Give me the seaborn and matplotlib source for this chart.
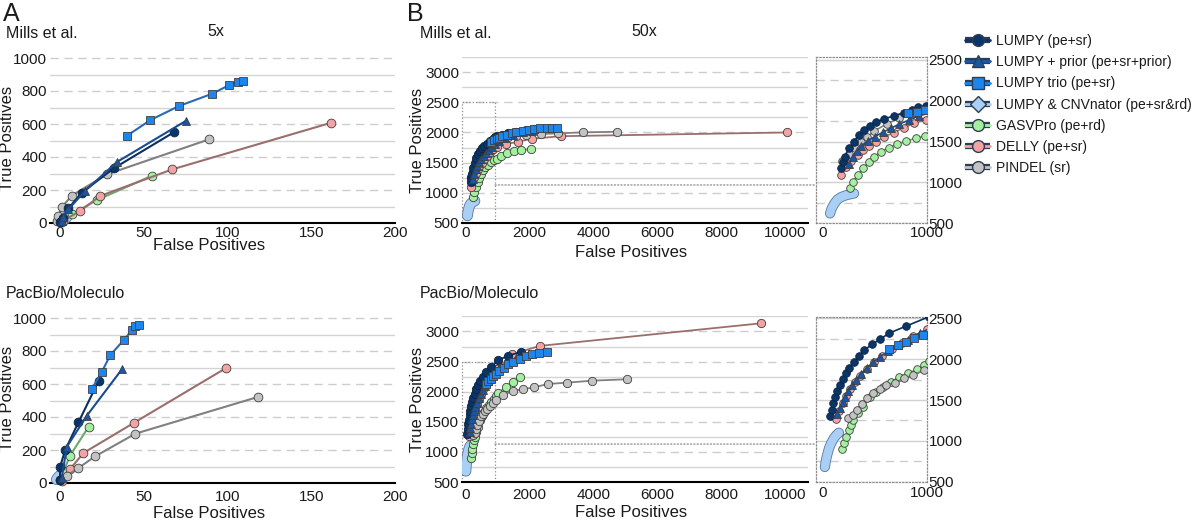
import matplotlib
matplotlib.use("Agg")
import numpy as np
import pandas as pd
import matplotlib.pyplot as plt
import matplotlib.patheffects as pe
from matplotlib.lines import Line2D
from matplotlib.patches import Rectangle, ConnectionPatch
from matplotlib.ticker import MultipleLocator, FixedLocator
import seaborn as sns

sns.set_style("white")
plt.rcParams["font.family"] = ["Liberation Sans", "DejaVu Sans"]

tools = [
    "LUMPY (pe+sr)",
    "LUMPY + prior (pe+sr+prior)",
    "LUMPY trio (pe+sr)",
    "LUMPY & CNVnator (pe+sr&rd)",
    "GASVPro (pe+rd)",
    "DELLY (pe+sr)",
    "PINDEL (sr)",
]

# (false positives, true positives)
# A, Mills et al., 5x
mills5_lumpy = [(0, 5), (2, 30), (5, 89), (13, 184), (32, 331), (68, 550)]
mills5_prior = [(1, 10), (2, 35), (5, 83), (15, 195), (34, 370), (75, 618)]
mills5_trio = [(40, 529), (54, 624), (71, 709), (91, 784), (101, 836), (106, 855), (109, 861)]
mills5_cnv = [(1, 6), (2, 16), (3, 26), (4, 36)]
mills5_gasv = [(1, 15), (7, 53), (22, 139), (55, 287)]
mills5_delly = [(2, 15), (12, 73), (24, 164), (67, 325), (162, 608)]
mills5_pindel = [(-2, 10), (-1, 42), (1, 95), (7, 166), (28, 295), (89, 507)]

# A, PacBio/Moleculo, 5x
pacbio5_lumpy = [(0, 20), (0, 97), (3, 198), (11, 368), (23, 618)]
pacbio5_prior = [(1, 30), (4, 219), (16, 408), (37, 690)]
pacbio5_trio = [(19, 570), (25, 675), (30, 775), (38, 866), (43, 927), (45, 954), (47, 959)]
pacbio5_cnv = [(-2, 22), (-1, 35), (0, 45), (1, 30)]
pacbio5_gasv = [(2, 70), (6, 166), (17, 340)]
pacbio5_delly = [(1, 15), (6, 85), (14, 182), (44, 364), (99, 696)]
pacbio5_pindel = [(0, 16), (4, 44), (11, 91), (21, 162), (45, 299), (118, 521)]

# B, Mills et al., 50x
mills50_lumpy = [(178, 1180), (190, 1250), (210, 1315), (251, 1418), (299, 1499), (346, 1581),
                 (400, 1642), (457, 1691), (511, 1736), (590, 1777), (686, 1817), (781, 1854),
                 (860, 1887), (917, 1920), (987, 1936), (1150, 1960), (1350, 1990), (1600, 2015),
                 (1900, 2040), (2150, 2055)]
mills50_prior = [(251, 1222), (289, 1315), (330, 1390), (371, 1450), (435, 1510), (498, 1560),
                 (578, 1615), (657, 1665), (736, 1715), (831, 1765), (926, 1815), (1050, 1860),
                 (1250, 1910), (1500, 1960), (1800, 2000), (2100, 2030)]
mills50_trio = [(820, 1845), (900, 1868), (980, 1890), (1060, 1910), (1160, 1935), (1300, 1960),
                (1450, 1985), (1600, 2005), (1800, 2025), (2000, 2045), (2150, 2060), (2350, 2070),
                (2550, 2075), (2700, 2078), (2850, 2080)]
mills50_cnv = [(70, 620), (85, 680), (110, 740), (140, 790), (175, 820), (215, 840), (260, 855),
               (300, 865)]
mills50_gasv = [(257, 928), (289, 1009), (337, 1091), (385, 1173), (439, 1247), (496, 1315),
                (559, 1376), (632, 1425), (708, 1465), (797, 1505), (892, 1540), (981, 1568),
                (1130, 1610), (1320, 1655), (1520, 1685), (1750, 1705), (2040, 1725)]
mills50_delly = [(178, 1091), (226, 1193), (273, 1262), (337, 1336), (385, 1397), (442, 1450),
                 (511, 1499), (590, 1560), (679, 1609), (781, 1670), (876, 1724), (987, 1764),
                 (1285, 1808), (1650, 1846), (2080, 1895), (2980, 1938), (10050, 2000)]
mills50_pindel = [(187, 1262), (251, 1348), (305, 1425), (362, 1499), (426, 1560), (496, 1630),
                  (612, 1715), (733, 1785), (860, 1838), (1022, 1874), (1335, 1919), (1598, 1940),
                  (1912, 1957), (2360, 1973), (2903, 1985), (3687, 2002), (4752, 2012)]

# B, PacBio/Moleculo, 50x
pacbio50_lumpy = [(70, 1304), (86, 1378), (102, 1460), (117, 1533), (140, 1610), (165, 1684),
                  (190, 1757), (220, 1830), (255, 1895), (295, 1960), (345, 2040), (400, 2110),
                  (470, 2180), (550, 2245), (640, 2320), (800, 2405), (1020, 2520), (1350, 2600),
                  (1750, 2660)]
pacbio50_prior = [(140, 1330), (165, 1400), (190, 1470), (215, 1540), (245, 1610), (280, 1680),
                  (320, 1750), (365, 1820), (420, 1890), (480, 1960), (550, 2030), (630, 2100),
                  (720, 2170), (820, 2240), (930, 2320), (1050, 2390), (1300, 2480), (1600, 2560),
                  (2000, 2620)]
pacbio50_trio = [(640, 2130), (720, 2175), (800, 2215), (880, 2255), (960, 2295), (1050, 2335),
                 (1200, 2400), (1350, 2455), (1500, 2500), (1700, 2550), (1900, 2595), (2100, 2625),
                 (2300, 2645), (2550, 2660)]
pacbio50_cnv = [(20, 680), (30, 760), (45, 840), (60, 910), (80, 970), (105, 1030), (130, 1070),
                (155, 1100)]
pacbio50_gasv = [(181, 897), (206, 977), (227, 1052), (250, 1130), (270, 1195), (293, 1255),
                 (341, 1337), (388, 1418), (452, 1533), (514, 1602), (578, 1663), (657, 1724),
                 (736, 1785), (816, 1827), (905, 1876), (975, 1928), (1022, 1973), (1285, 2083),
                 (1492, 2166), (1700, 2250)]
pacbio50_delly = [(130, 1270), (160, 1370), (190, 1460), (225, 1550), (265, 1640), (310, 1720),
                  (360, 1800), (420, 1880), (490, 1960), (570, 2040), (660, 2120), (760, 2200),
                  (870, 2280), (1000, 2370), (1450, 2620), (2330, 2760), (9230, 3135)]
pacbio50_pindel = [(245, 1276), (293, 1317), (325, 1378), (373, 1451), (420, 1520), (483, 1590),
                   (546, 1631), (610, 1684), (689, 1712), (784, 1765), (863, 1806), (975, 1867),
                   (1179, 1945), (1492, 2012), (1806, 2040), (2151, 2073), (2589, 2128),
                   (3185, 2150), (3969, 2183), (5047, 2206)]

panels = {
    "mills5": [mills5_lumpy, mills5_prior, mills5_trio, mills5_cnv, mills5_gasv, mills5_delly, mills5_pindel],
    "pacbio5": [pacbio5_lumpy, pacbio5_prior, pacbio5_trio, pacbio5_cnv, pacbio5_gasv, pacbio5_delly, pacbio5_pindel],
    "mills50": [mills50_lumpy, mills50_prior, mills50_trio, mills50_cnv, mills50_gasv, mills50_delly, mills50_pindel],
    "pacbio50": [pacbio50_lumpy, pacbio50_prior, pacbio50_trio, pacbio50_cnv, pacbio50_gasv, pacbio50_delly, pacbio50_pindel],
}

rows = []
for panel, series in panels.items():
    for tool, pts in zip(tools, series):
        for i, (fp, tp) in enumerate(pts):
            rows.append({"panel": panel, "tool": tool, "order": i, "fp": fp, "tp": tp})
df = pd.DataFrame(rows)

face = dict(zip(tools, ["#0b3566", "#1d55a5", "#1c86ee", "#a9cff5", "#a4f0a0", "#f3a3a3", "#c3c3c3"]))
line_col = dict(zip(tools, ["#0b2f5c", "#1a4a8f", "#2a68b5", "#a9cff5", "#6ea86c", "#9b6e6e", "#808080"]))
marker = dict(zip(tools, ["o", "^", "s", "D", "o", "o", "o"]))
draw_order = [tools[3], tools[4], tools[5], tools[6], tools[0], tools[1], tools[2]]
EDGE = "#3f3f3f"
TXT = "#1a1a1a"


def draw_panel(ax, panel, ms, lw, clip=True):
    for tool in draw_order:
        sub = df[(df.panel == panel) & (df.tool == tool)]
        if tool == tools[3]:
            # dense diamonds merge into a ribbon
            w = ms * 1.1
            sns.lineplot(data=sub, x="fp", y="tp", ax=ax, sort=False, estimator=None,
                         color=face[tool], lw=w, solid_capstyle="round", solid_joinstyle="round",
                         path_effects=[pe.Stroke(linewidth=w + 1.3, foreground="#5b7da3"), pe.Normal()],
                         legend=False, clip_on=clip, zorder=3)
            continue
        ec = "#0a2445" if tool == tools[0] else EDGE
        sns.lineplot(data=sub, x="fp", y="tp", ax=ax, sort=False, estimator=None,
                     color=line_col[tool], lw=lw, marker=marker[tool], ms=ms,
                     markerfacecolor=face[tool], markeredgecolor=ec, markeredgewidth=0.6,
                     legend=False, clip_on=clip, zorder=3)


def style_main(ax, major, minor, xticks, label_pad, xlab_y, xlab_x, ylab_x):
    for s in ["left", "right", "top"]:
        ax.spines[s].set_visible(False)
    ax.spines["bottom"].set_color("black")
    ax.spines["bottom"].set_linewidth(1.5)
    ax.set_xticks(xticks)
    ax.yaxis.set_major_locator(FixedLocator(major))
    ax.yaxis.set_minor_locator(FixedLocator(minor))
    ax.grid(False)
    ax.grid(axis="y", which="major", color="#cdcdcd", lw=1.0, ls=(0, (6, 4)))
    ax.grid(axis="y", which="minor", color="#d4d4d4", lw=1.0, ls="-")
    ax.set_axisbelow(True)
    ax.tick_params(axis="x", direction="in", length=4, width=1, colors=TXT, labelsize=11, pad=label_pad)
    ax.tick_params(axis="y", which="both", length=0, labelsize=11, labelcolor=TXT, pad=2)
    ax.set_xlabel("False Positives", fontsize=12, color=TXT, va="top")
    ax.set_ylabel("True Positives", fontsize=12, color=TXT)
    ax.xaxis.set_label_coords(xlab_x, xlab_y)
    ax.yaxis.set_label_coords(ylab_x, 0.5)


def style_inset(ax, label_pad):
    ax.set_xlim(-65, 1000)
    for s in ax.spines.values():
        s.set_visible(True)
        s.set_linestyle(":")
        s.set_color("#8c8c8c")
        s.set_linewidth(0.9)
    ax.xaxis.set_major_locator(FixedLocator([0, 1000]))
    ax.xaxis.set_minor_locator(MultipleLocator(200))
    ax.yaxis.set_major_locator(FixedLocator([500, 1000, 1500, 2000, 2500]))
    ax.yaxis.set_minor_locator(FixedLocator([750, 1250, 1750, 2250]))
    ax.grid(False)
    ax.grid(axis="y", which="major", color="#d0d0d0", lw=1.0, ls="-")
    ax.grid(axis="y", which="minor", color="#cdcdcd", lw=1.0, ls=(0, (6, 4)))
    ax.set_axisbelow(True)
    ax.yaxis.tick_right()
    ax.tick_params(axis="x", which="both", direction="in", length=4, width=0.8, colors="#555555",
                   labelcolor=TXT, labelsize=11, pad=label_pad)
    ax.tick_params(axis="y", which="both", length=0, labelsize=11, labelcolor=TXT, pad=1)
    ax.set_xlabel("")
    ax.set_ylabel("")


fig = plt.figure(figsize=(12, 5.25), dpi=100)
W, H = 1200.0, 525.0


def box(left, bottom_px, width, height):
    return [left / W, 1 - bottom_px / H, width / W, height / H]


# panel A
axA1 = fig.add_axes(box(50, 223, 345, 168.3))
draw_panel(axA1, "mills5", 6.3, 1.5, clip=False)
axA1.set_xlim(-6, 200)
axA1.set_ylim(0, 1020)
style_main(axA1, np.arange(0, 1001, 200), np.arange(100, 1000, 200), [0, 50, 100, 150, 200],
           2, -0.088, 0.46, -0.1)

axA2 = fig.add_axes(box(50, 483, 345, 168.3))
draw_panel(axA2, "pacbio5", 6.3, 1.5, clip=False)
axA2.set_xlim(-6, 200)
axA2.set_ylim(0, 1020)
style_main(axA2, np.arange(0, 1001, 200), np.arange(100, 1000, 200), [0, 50, 100, 150, 200],
           5, -0.135, 0.46, -0.1)

# panel B
axB1 = fig.add_axes(box(462, 223, 346, 166))
draw_panel(axB1, "mills50", 6.0, 1.3)
axB1.set_xlim(-100, 10700)
axB1.set_ylim(500, 3250)
style_main(axB1, np.arange(500, 3001, 500), np.arange(750, 3251, 500), np.arange(0, 10001, 2000),
           2, -0.13, 0.49, -0.107)

axB2 = fig.add_axes(box(462, 482, 346, 165.6))
draw_panel(axB2, "pacbio50", 6.0, 1.3)
axB2.set_xlim(-100, 10700)
axB2.set_ylim(500, 3250)
style_main(axB2, np.arange(500, 3001, 500), np.arange(750, 3251, 500), np.arange(0, 10001, 2000),
           4, -0.14, 0.49, -0.107)

# zoomed insets (0-1000 false positives)
insB1 = fig.add_axes(box(816, 223.3, 111, 165.9))
draw_panel(insB1, "mills50", 5.5, 1.2)
insB1.set_ylim(500, 2530)
style_inset(insB1, 2)

insB2 = fig.add_axes(box(816, 481.7, 111, 165.0))
draw_panel(insB2, "pacbio50", 5.5, 1.2)
insB2.set_ylim(500, 2520)
style_inset(insB2, 3)

# zoom indicators on the main B panels
for ax, ins in [(axB1, insB1), (axB2, insB2)]:
    ax.add_patch(Rectangle((-100, 500), 1030, 2000, fill=False, ls=":", ec="#8c8c8c", lw=0.9,
                           clip_on=False, zorder=2))
    fig.canvas.draw()
    y_fig = fig.transFigure.inverted().transform(ax.transData.transform((930, 1130)))[1]
    con = ConnectionPatch(xyA=(930, 1130), coordsA=ax.transData,
                          xyB=(816 / W, y_fig), coordsB=fig.transFigure,
                          ls=":", color="#8c8c8c", lw=0.9)
    fig.add_artist(con)

# panel labels and titles
fig.text(3 / W, 1 - 14 / H, "A", fontsize=18, color=TXT, va="center", ha="left")
fig.text(407 / W, 1 - 14 / H, "B", fontsize=18, color=TXT, va="center", ha="left")
fig.text(6 / W, 1 - 34 / H, "Mills et al.", fontsize=11.5, color=TXT, va="center", ha="left")
fig.text(420 / W, 1 - 34 / H, "Mills et al.", fontsize=11.5, color=TXT, va="center", ha="left")
fig.text(216 / W, 1 - 32 / H, "5x", fontsize=11.5, color=TXT, va="center", ha="center")
fig.text(644 / W, 1 - 31 / H, "50x", fontsize=11.5, color=TXT, va="center", ha="center")
fig.text(6 / W, 1 - 293 / H, "PacBio/Moleculo", fontsize=11.5, color=TXT, va="center", ha="left")
fig.text(420 / W, 1 - 293 / H, "PacBio/Moleculo", fontsize=11.5, color=TXT, va="center", ha="left")

# legend
handles = []
for tool in tools:
    back = Line2D([], [], color="#2e3d52", lw=4.5, solid_capstyle="butt")
    front = Line2D([], [], color=face[tool], lw=2.0, marker=marker[tool], ms=8.5,
                   markerfacecolor=face[tool], markeredgecolor="#2e3d52", markeredgewidth=1.0)
    handles.append((back, front))
fig.legend(handles, tools, loc="upper left", bbox_to_anchor=(965 / W, 1 - 34 / H),
           frameon=False, fontsize=10, handlelength=1.8, handletextpad=0.4,
           labelspacing=0.52, borderpad=0, borderaxespad=0, labelcolor=TXT)

fig.savefig("out.png", dpi=100)
